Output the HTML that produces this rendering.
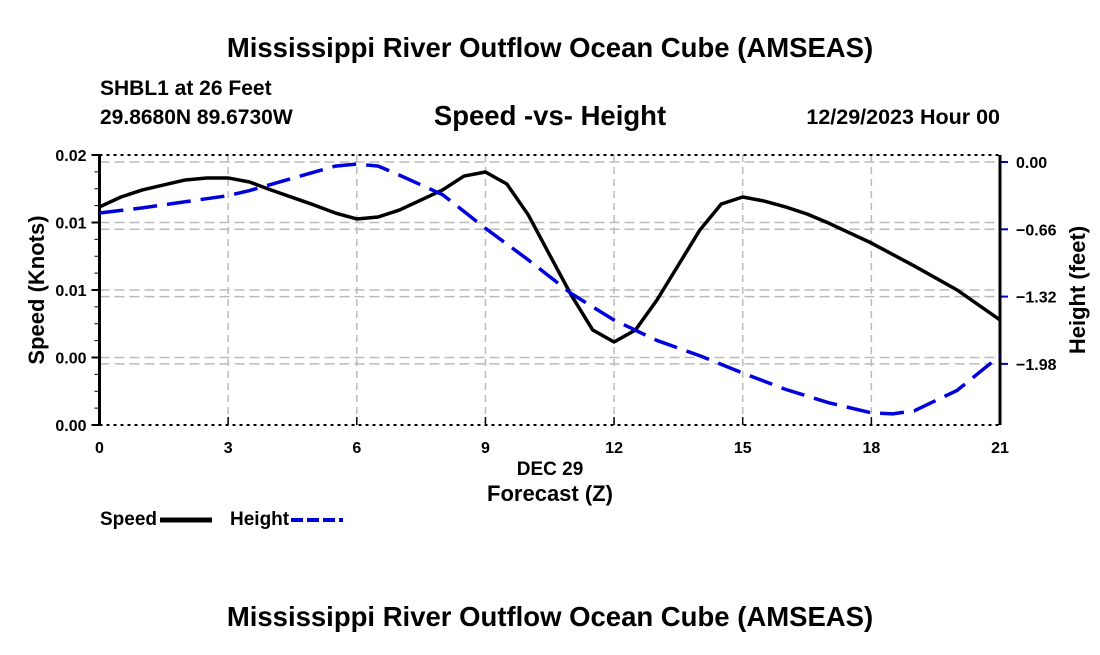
<!DOCTYPE html>
<html><head><meta charset="utf-8"><style>
body{margin:0;background:#fff;width:1100px;height:650px;overflow:hidden;font-family:"Liberation Sans",sans-serif}
</style></head><body>
<svg id="chart" width="1100" height="650" font-family="Liberation Sans, sans-serif" font-weight="bold">
<text x="550" y="57" text-anchor="middle" font-size="27.5">Mississippi River Outflow Ocean Cube (AMSEAS)</text>
<text x="100" y="95" font-size="21">SHBL1 at 26 Feet</text>
<text x="100" y="124" font-size="21">29.8680N  89.6730W</text>
<text x="550" y="125" text-anchor="middle" font-size="27.5">Speed -vs- Height</text>
<text x="1000" y="124" text-anchor="end" font-size="21.5">12/29/2023 Hour 00</text>
<g id="grid"></g><g id="axes"></g><g id="series"></g>
<text x="550" y="475" text-anchor="middle" font-size="19">DEC 29</text>
<text x="550" y="501" text-anchor="middle" font-size="22">Forecast (Z)</text>
<text transform="translate(44,290) rotate(-90)" text-anchor="middle" font-size="22">Speed (Knots)</text>
<text transform="translate(1085,290) rotate(-90)" text-anchor="middle" font-size="22">Height (feet)</text>
<g>
<text x="100" y="525" font-size="19">Speed</text>
<line x1="160" y1="520" x2="212" y2="520" stroke="#000" stroke-width="5"/>
<text x="230" y="525" font-size="19">Height</text>
<line x1="291" y1="520" x2="343" y2="520" stroke="#0000dd" stroke-width="4" stroke-dasharray="12,4"/>
</g>
<text x="550" y="626" text-anchor="middle" font-size="27.5">Mississippi River Outflow Ocean Cube (AMSEAS)</text>
</svg>
<script>
const speedHours=[0,0.5,1,2,2.5,3,3.5,4,5,5.5,6,6.5,7,8,8.5,9,9.5,10,10.5,11,11.5,12,12.5,13,14,14.5,15,15.5,16,16.5,17,18,19,20,21];
const speedValues=[0.01615,0.01689,0.01741,0.01815,0.0183,0.0183,0.018,0.01741,0.0163,0.0157,0.01526,0.01541,0.01593,0.01741,0.01844,0.01874,0.01785,0.01556,0.01259,0.00963,0.00704,0.00615,0.00704,0.00926,0.01444,0.01637,0.01689,0.01659,0.01615,0.01563,0.01496,0.01348,0.01178,0.01,0.00778];
const heightHours=[0,1,2,3,3.5,4,5,5.5,6,6.5,7,8,9,10,11,12,13,14,15,16,17,18,18.5,19,20,21];
const heightValues=[-0.5,-0.45,-0.39,-0.33,-0.28,-0.22,-0.1,-0.04,-0.02,-0.04,-0.13,-0.32,-0.65,-0.96,-1.29,-1.55,-1.75,-1.9,-2.07,-2.23,-2.36,-2.46,-2.47,-2.44,-2.24,-1.9];
const xTicks=[0,3,6,9,12,15,18,21];
const leftTickValues=[0,0.005,0.01,0.015,0.02];
const leftTickLabels=["0.00","0.00","0.01","0.01","0.02"];
const rightTickValues=[0,-0.66,-1.32,-1.98];
const rightTickLabels=["0.00","\u22120.66","\u22121.32","\u22121.98"];
const L=99.5,R=1000,T=155,B=425;
const xs=h=>L+(R-L)*h/21;
const ys=v=>B-(B-T)*v/0.02;
const yh=v=>162+(-v)*67.3/0.66;
const NS='http://www.w3.org/2000/svg';
function mk(tag,attrs,parent){const e=document.createElementNS(NS,tag);for(const k in attrs)e.setAttribute(k,attrs[k]);parent.appendChild(e);return e;}
const grid=document.getElementById('grid'),axes=document.getElementById('axes'),series=document.getElementById('series');
xTicks.forEach(h=>{if(h>0&&h<21){const l=mk('line',{x1:xs(h),x2:xs(h),y1:T,y2:B,stroke:'#bbb','stroke-width':1.5,'stroke-dasharray':'7,5'},grid);

}
const t=mk('text',{x:xs(h),y:453,'text-anchor':'middle','font-size':16},axes);t.textContent=h;


mk('line',{x1:xs(h),x2:xs(h),y1:B,y2:B-8,stroke:'#000','stroke-width':1.5},axes);});
leftTickValues.forEach((v,i)=>{const y=ys(v);
if(v>0&&v<0.02){const g=mk('line',{x1:L,x2:R,y1:y,y2:y,stroke:'#bbb','stroke-width':1.5,'stroke-dasharray':'10,5'},grid);

}
mk('line',{x1:L-8,x2:L,y1:y,y2:y,stroke:'#000','stroke-width':2},axes);
const t=mk('text',{x:L-13,y:y+6,'text-anchor':'end','font-size':16},axes);t.textContent=leftTickLabels[i];

});
for(let v=0;v<=0.02;v+=0.00125){mk('line',{x1:L-5,x2:L,y1:ys(v),y2:ys(v),stroke:'#000','stroke-width':1},axes);}
rightTickValues.forEach((v,i)=>{const y=yh(v);
const g=mk('line',{x1:L,x2:R,y1:y,y2:y,stroke:'#bbb','stroke-width':1.5,'stroke-dasharray':'10,5'},grid);


mk('line',{x1:R,x2:R+8,y1:y,y2:y,stroke:'#0000cc','stroke-width':2},axes);
const t=mk('text',{x:R+16,y:y+6,'font-size':16},axes);t.textContent=rightTickLabels[i];

});
[T,B].forEach(y=>{mk('line',{x1:L,x2:R,y1:y,y2:y,stroke:'#000','stroke-width':2,'stroke-dasharray':'3,4'},axes);});
mk('line',{x1:L,x2:L,y1:T,y2:B,stroke:'#000','stroke-width':3},axes);
mk('line',{x1:R,x2:R,y1:T,y2:B,stroke:'#000','stroke-width':3},axes);
const sp=mk('polyline',{points:speedHours.map((h,i)=>xs(h)+','+ys(speedValues[i])).join(' '),fill:'none',stroke:'#000','stroke-width':3.5,'stroke-linejoin':'round'},series);


const hp=mk('polyline',{points:heightHours.map((h,i)=>xs(h)+','+yh(heightValues[i])).join(' '),fill:'none',stroke:'#0000dd','stroke-width':3.5,'stroke-dasharray':'24,10'},series);


</script>
</body></html>
